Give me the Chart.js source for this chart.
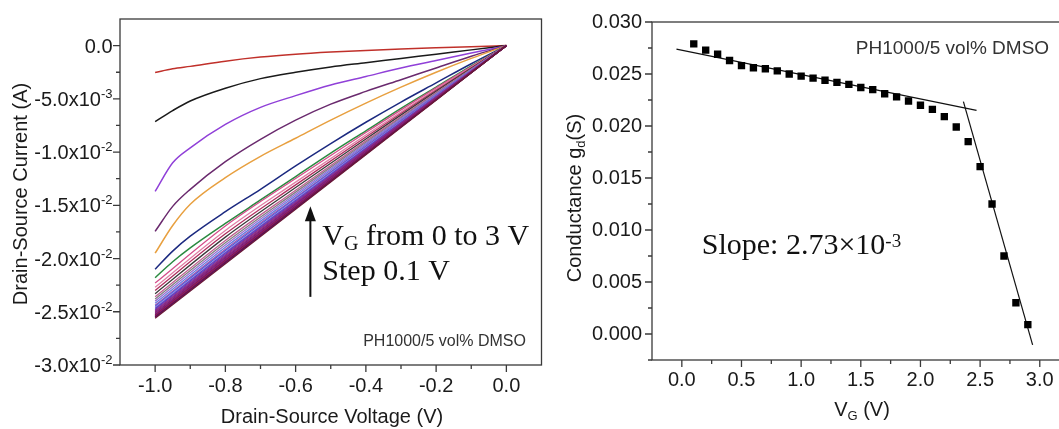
<!DOCTYPE html>
<html>
<head>
<meta charset="utf-8">
<title>PH1000/5 vol% DMSO output and conductance</title>
<script src="https://cdn.jsdelivr.net/npm/chart.js@4.4.1/dist/chart.umd.min.js"></script>
<style>
  html, body { margin: 0; padding: 0; background: #fff; overflow: hidden; }
  body { width: 1059px; height: 429px; position: relative; }
  .panel { position: absolute; top: 0; }
  #outputBox { left: 0; }
  #gdBox { left: 545px; }
</style>
</head>
<body>
<div class="panel" id="outputBox"><canvas id="outputChart" width="545" height="429"></canvas></div>
<div class="panel" id="gdBox"><canvas id="gdChart" width="530" height="429"></canvas></div>
<script>
// ---- output curves: drain current (A) vs drain-source voltage (V) ----
const vdsFine = [-1.0, -0.95, -0.9, -0.8, -0.7, -0.6, -0.5, -0.4, -0.3, -0.2, -0.1, 0.0];
const vdsCoarse = [-1.0, -0.8, -0.6, -0.4, -0.2, 0.0];

// high gate bias, sampled on vdsFine
const idVg30 = [-0.00253, -0.00218, -0.00195, -0.00146, -0.00108, -0.00081, -0.00061, -0.00045, -0.00032, -0.00021, -0.00011, 0];
const idVg29 = [-0.00713, -0.0061, -0.0052, -0.0040, -0.0031, -0.0025, -0.0020, -0.0016, -0.0012, -0.0008, -0.0004, 0];
const idVg28 = [-0.0137, -0.0110, -0.0096, -0.0074, -0.0058, -0.0047, -0.0037, -0.0029, -0.0021, -0.0014, -0.0007, 0];
const idVg27 = [-0.01745, -0.0151, -0.0135, -0.0109, -0.0088, -0.0070, -0.0055, -0.0043, -0.0032, -0.0021, -0.0010, 0];
const idVg26 = [-0.0195, -0.0169, -0.0149, -0.0124, -0.0104, -0.0087, -0.0070, -0.0054, -0.0039, -0.0025, -0.0012, 0];
const idVg25 = [-0.0210, -0.0193, -0.0179, -0.0156, -0.0135, -0.0113, -0.0092, -0.0072, -0.0053, -0.0035, -0.0017, 0];
const idVg24 = [-0.0218, -0.0203, -0.0190, -0.0167, -0.0145, -0.0123, -0.0101, -0.0080, -0.0059, -0.0039, -0.0019, 0];

// low gate bias, sampled on vdsCoarse
const idVg23 = [-0.0223, -0.01694, -0.01248, -0.00816, -0.00397, 0];
const idVg22 = [-0.0227, -0.01736, -0.01282, -0.00840, -0.00410, 0];
const idVg21 = [-0.0230, -0.01768, -0.01308, -0.00859, -0.00420, 0];
const idVg20 = [-0.0233, -0.01799, -0.01333, -0.00877, -0.00430, 0];
const idVg19 = [-0.0236, -0.01830, -0.01358, -0.00895, -0.00440, 0];
const idVg18 = [-0.0238, -0.01852, -0.01376, -0.00908, -0.00447, 0];
const idVg17 = [-0.0240, -0.01873, -0.01393, -0.00920, -0.00454, 0];
const idVg16 = [-0.0242, -0.01894, -0.01410, -0.00932, -0.00461, 0];
const idVg15 = [-0.0244, -0.01914, -0.01426, -0.00944, -0.00467, 0];
const idVg14 = [-0.0245, -0.01926, -0.01436, -0.00951, -0.00471, 0];
const idVg13 = [-0.0246, -0.01938, -0.01446, -0.00958, -0.00475, 0];
const idVg12 = [-0.0247, -0.01949, -0.01455, -0.00965, -0.00479, 0];
const idVg11 = [-0.0248, -0.01960, -0.01464, -0.00972, -0.00483, 0];
const idVg10 = [-0.0249, -0.01971, -0.01473, -0.00978, -0.00486, 0];
const idVg09 = [-0.0250, -0.01982, -0.01482, -0.00985, -0.00490, 0];
const idVg08 = [-0.0251, -0.01992, -0.01490, -0.00990, -0.00493, 0];
const idVg07 = [-0.0252, -0.02002, -0.01498, -0.00996, -0.00496, 0];
const idVg06 = [-0.0253, -0.02012, -0.01506, -0.01002, -0.00499, 0];
const idVg05 = [-0.0253, -0.02014, -0.01508, -0.01004, -0.00501, 0];
const idVg04 = [-0.0254, -0.02024, -0.01516, -0.01009, -0.00504, 0];
const idVg03 = [-0.0254, -0.02026, -0.01518, -0.01011, -0.00505, 0];
const idVg02 = [-0.0255, -0.02036, -0.01526, -0.01017, -0.00508, 0];
const idVg01 = [-0.0255, -0.02038, -0.01528, -0.01018, -0.00509, 0];
const idVg00 = [-0.0256, -0.02048, -0.01536, -0.01024, -0.00512, 0];

const vdsTicks = [-1.0, -0.8, -0.6, -0.4, -0.2, 0.0];
const vdsMinor = [-0.9, -0.7, -0.5, -0.3, -0.1];
const idTicks = [0, -0.005, -0.01, -0.015, -0.02, -0.025, -0.03];
const idTickMant = ['0.0', '-5.0x10', '-1.0x10', '-1.5x10', '-2.0x10', '-2.5x10', '-3.0x10'];
const idTickExp = ['', '-3', '-2', '-2', '-2', '-2', '-2'];
const idMinor = [-0.0025, -0.0075, -0.0125, -0.0175, -0.0225, -0.0275];

// ---- conductance vs gate voltage ----
const vgPoints = [0.1, 0.2, 0.3, 0.4, 0.5, 0.6, 0.7, 0.8, 0.9, 1.0, 1.1, 1.2, 1.3, 1.4, 1.5,
                  1.6, 1.7, 1.8, 1.9, 2.0, 2.1, 2.2, 2.3, 2.4, 2.5, 2.6, 2.7, 2.8, 2.9];
const gdPoints = [0.0279, 0.0273, 0.0269, 0.0263, 0.0258, 0.0256, 0.0255, 0.0253, 0.0250, 0.0248,
                  0.0246, 0.0244, 0.0242, 0.0240, 0.0237, 0.0235, 0.0231, 0.0228, 0.0224, 0.0220,
                  0.0216, 0.0209, 0.0199, 0.0185, 0.0161, 0.0125, 0.0075, 0.0030, 0.0009];
const fitLowVg = [-0.045, 2.47];
const fitLowGd = [0.0274, 0.0215];
const fitHighVg = [2.36, 2.94];
const fitHighGd = [0.02235, -0.00105];

const vgTicks = [0, 0.5, 1.0, 1.5, 2.0, 2.5, 3.0];
const vgMinor = [0.25, 0.75, 1.25, 1.75, 2.25, 2.75];
const gdTicks = [0, 0.005, 0.01, 0.015, 0.02, 0.025, 0.03];
const gdMinor = [-0.0025, 0.0025, 0.0075, 0.0125, 0.0175, 0.0225, 0.0275];

const SANS = "'Liberation Sans', Arial, sans-serif";
const SERIF = "'Liberation Serif', 'Times New Roman', serif";

// write a row of text pieces, each with its own font and vertical shift
function drawRich(ctx, pieces, x, y, align) {
  let w = 0;
  pieces.forEach(p => { ctx.font = p.font; w += ctx.measureText(p.text).width; });
  let cx = align === 'right' ? x - w : align === 'center' ? x - w / 2 : x;
  ctx.textAlign = 'left';
  ctx.textBaseline = 'alphabetic';
  pieces.forEach(p => {
    ctx.font = p.font;
    ctx.fillText(p.text, cx, y + (p.dy || 0));
    cx += ctx.measureText(p.text).width;
  });
}

// box frame plus outward major/minor tick marks
const axisDecor = {
  id: 'axisDecor',
  afterDraw(chart, args, o) {
    const { ctx, chartArea: a } = chart;
    const x = chart.scales.x, y = chart.scales.y;
    ctx.save();
    ctx.strokeStyle = '#3a3a3a';
    ctx.lineWidth = 1.3;
    ctx.strokeRect(a.left, a.top, a.right - a.left, a.bottom - a.top);
    ctx.beginPath();
    o.xMajor.forEach(v => { const p = x.getPixelForValue(v); ctx.moveTo(p, a.bottom); ctx.lineTo(p, a.bottom + 7); });
    o.xMinor.forEach(v => { const p = x.getPixelForValue(v); ctx.moveTo(p, a.bottom); ctx.lineTo(p, a.bottom + 4); });
    o.yMajor.forEach(v => { const p = y.getPixelForValue(v); ctx.moveTo(a.left, p); ctx.lineTo(a.left - 7, p); });
    o.yMinor.forEach(v => { const p = y.getPixelForValue(v); ctx.moveTo(a.left, p); ctx.lineTo(a.left - 4, p); });
    ctx.stroke();
    ctx.restore();
  }
};

function pairs(xs, ys) {
  return xs.map((v, i) => ({ x: v, y: ys[i] }));
}

// ---------------- left panel ----------------
const outputCurves = [
  [idVg00, '#6a1838'], [idVg01, '#5a1060'], [idVg02, '#702040'], [idVg03, '#9a1a5a'],
  [idVg04, '#5a1a7a'], [idVg05, '#802050'], [idVg06, '#b02080'], [idVg07, '#6a2090'],
  [idVg08, '#902060'], [idVg09, '#7a2a9a'], [idVg10, '#a03070'], [idVg11, '#5a3cc8'],
  [idVg12, '#7040b0'], [idVg13, '#8c8ce8'], [idVg14, '#4d5ad8'], [idVg15, '#a05ab0'],
  [idVg16, '#6a7be0'], [idVg17, '#9a6fd0'], [idVg18, '#808080'], [idVg19, '#c06090'],
  [idVg20, '#3a3a3a'], [idVg21, '#b03060'], [idVg22, '#e27fa6'], [idVg23, '#d4508c'],
  [idVg24, '#2a8a40'], [idVg25, '#1c2a80'], [idVg26, '#e8a040'], [idVg27, '#6a2a6e'],
  [idVg28, '#9040d8'], [idVg29, '#1a1a1a'], [idVg30, '#c0302a']
];

const outputNotes = {
  id: 'outputNotes',
  afterDraw(chart) {
    const { ctx } = chart;
    const x = chart.scales.x, y = chart.scales.y;
    ctx.save();
    ctx.fillStyle = '#111';
    ctx.strokeStyle = '#111';

    // arrow showing increasing gate voltage
    const ax = x.getPixelForValue(-0.558);
    const tip = y.getPixelForValue(-0.0151);
    const tail = y.getPixelForValue(-0.0236);
    ctx.lineWidth = 2;
    ctx.beginPath();
    ctx.moveTo(ax, tail);
    ctx.lineTo(ax, tip + 10);
    ctx.stroke();
    ctx.beginPath();
    ctx.moveTo(ax, tip);
    ctx.lineTo(ax - 5.5, tip + 15);
    ctx.lineTo(ax + 5.5, tip + 15);
    ctx.closePath();
    ctx.fill();

    const tx = x.getPixelForValue(-0.524);
    drawRich(ctx, [
      { text: 'V', font: '30px ' + SERIF },
      { text: 'G', font: '20px ' + SERIF, dy: 5 },
      { text: ' from 0 to 3 V', font: '30px ' + SERIF }
    ], tx, y.getPixelForValue(-0.01873), 'left');
    drawRich(ctx, [{ text: 'Step 0.1 V', font: '30px ' + SERIF }], tx, y.getPixelForValue(-0.02202), 'left');

    ctx.fillStyle = '#333';
    drawRich(ctx, [{ text: 'PH1000/5 vol% DMSO', font: '16px ' + SANS }],
      x.getPixelForValue(0.0556), y.getPixelForValue(-0.02822), 'right');

    // y tick labels with power-of-ten superscripts
    ctx.fillStyle = '#1a1a1a';
    idTicks.forEach((v, i) => {
      const parts = [{ text: idTickMant[i], font: '20px ' + SANS }];
      if (idTickExp[i]) parts.push({ text: idTickExp[i], font: '13px ' + SANS, dy: -8 });
      drawRich(ctx, parts, 112.5, y.getPixelForValue(v) + 7, 'right');
    });

    // axis titles
    ctx.font = '20px ' + SANS;
    ctx.textAlign = 'center';
    ctx.textBaseline = 'middle';
    ctx.save();
    ctx.translate(21.5, 194);
    ctx.rotate(-Math.PI / 2);
    ctx.fillText('Drain-Source Current (A)', 0, 0);
    ctx.restore();
    ctx.textBaseline = 'alphabetic';
    ctx.fillText('Drain-Source Voltage (V)', 332, 423);
    ctx.restore();
  }
};

new Chart(document.getElementById('outputChart'), {
  type: 'line',
  data: {
    datasets: outputCurves.map(([ys, color]) => ({
      data: pairs(ys.length === vdsFine.length ? vdsFine : vdsCoarse, ys),
      borderColor: color,
      borderWidth: ys.length === vdsFine.length ? 1.5 : 1.3,
      pointRadius: 0,
      fill: false,
      cubicInterpolationMode: 'monotone'
    }))
  },
  options: {
    responsive: false,
    animation: false,
    layout: { padding: { top: 19, right: 3.5, left: 0, bottom: 0 } },
    plugins: {
      legend: { display: false },
      tooltip: { enabled: false },
      axisDecor: { xMajor: vdsTicks, xMinor: vdsMinor, yMajor: idTicks, yMinor: idMinor }
    },
    scales: {
      x: {
        type: 'linear',
        min: -1.1,
        max: 0.1,
        grid: { display: false, drawTicks: false },
        border: { display: false },
        afterBuildTicks: s => { s.ticks = vdsTicks.map(v => ({ value: v })); },
        afterFit: s => { s.height = 64; },
        ticks: {
          padding: 9.5,
          color: '#1a1a1a',
          font: { family: SANS, size: 20 },
          maxRotation: 0,
          callback: v => v.toFixed(1)
        }
      },
      y: {
        type: 'linear',
        min: -0.03,
        max: 0.0025,
        grid: { display: false, drawTicks: false },
        border: { display: false },
        ticks: { display: false },
        afterFit: s => { s.width = 120; }
      }
    }
  },
  plugins: [axisDecor, outputNotes]
});

// ---------------- right panel ----------------
const gdNotes = {
  id: 'gdNotes',
  afterDraw(chart) {
    const { ctx } = chart;
    const x = chart.scales.x, y = chart.scales.y;
    ctx.save();
    ctx.fillStyle = '#333';
    drawRich(ctx, [{ text: 'PH1000/5 vol% DMSO', font: '19px ' + SANS }],
      x.getPixelForValue(3.078), y.getPixelForValue(0.02694), 'right');

    ctx.fillStyle = '#111';
    drawRich(ctx, [
      { text: 'Slope: 2.73\u00d710', font: '30px ' + SERIF },
      { text: '-3', font: '19px ' + SERIF, dy: -7 }
    ], x.getPixelForValue(0.167), y.getPixelForValue(0.00765), 'left');

    ctx.fillStyle = '#1a1a1a';
    drawRich(ctx, [
      { text: 'V', font: '20px ' + SANS },
      { text: 'G', font: '13px ' + SANS, dy: 4 },
      { text: ' (V)', font: '20px ' + SANS }
    ], 317, 416, 'center');

    ctx.save();
    ctx.translate(29, 198);
    ctx.rotate(-Math.PI / 2);
    drawRich(ctx, [
      { text: 'Conductance g', font: '20px ' + SANS },
      { text: 'd', font: '13px ' + SANS, dy: 4 },
      { text: '(S)', font: '20px ' + SANS }
    ], 0, 7, 'center');
    ctx.restore();
    ctx.restore();
  }
};

new Chart(document.getElementById('gdChart'), {
  type: 'scatter',
  data: {
    datasets: [
      {
        data: pairs(vgPoints, gdPoints),
        pointStyle: 'rect',
        pointRadius: 5.2,
        backgroundColor: '#000',
        borderColor: '#000',
        borderWidth: 0,
        showLine: false
      },
      {
        data: pairs(fitLowVg, fitLowGd),
        showLine: true,
        borderColor: '#111',
        borderWidth: 1.2,
        pointRadius: 0
      },
      {
        data: pairs(fitHighVg, fitHighGd),
        showLine: true,
        borderColor: '#111',
        borderWidth: 1.2,
        pointRadius: 0
      }
    ]
  },
  options: {
    responsive: false,
    animation: false,
    layout: { padding: { top: 18, right: 5.4, left: 0, bottom: 0 } },
    plugins: {
      legend: { display: false },
      tooltip: { enabled: false },
      axisDecor: { xMajor: vgTicks, xMinor: vgMinor, yMajor: gdTicks, yMinor: gdMinor }
    },
    scales: {
      x: {
        type: 'linear',
        min: -0.25,
        max: 3.25,
        grid: { display: false, drawTicks: false },
        border: { display: false },
        afterBuildTicks: s => { s.ticks = vgTicks.map(v => ({ value: v })); },
        afterFit: s => { s.height = 69; },
        ticks: {
          padding: 8.6,
          color: '#1a1a1a',
          font: { family: SANS, size: 20 },
          maxRotation: 0,
          callback: v => v.toFixed(1)
        }
      },
      y: {
        type: 'linear',
        min: -0.0025,
        max: 0.03,
        grid: { display: false, drawTicks: false },
        border: { display: false },
        afterBuildTicks: s => { s.ticks = gdTicks.map(v => ({ value: v })); },
        afterFit: s => { s.width = 107; },
        ticks: {
          padding: 10,
          color: '#1a1a1a',
          font: { family: SANS, size: 20 },
          callback: v => v.toFixed(3)
        }
      }
    }
  },
  plugins: [axisDecor, gdNotes]
});
</script>
</body>
</html>
